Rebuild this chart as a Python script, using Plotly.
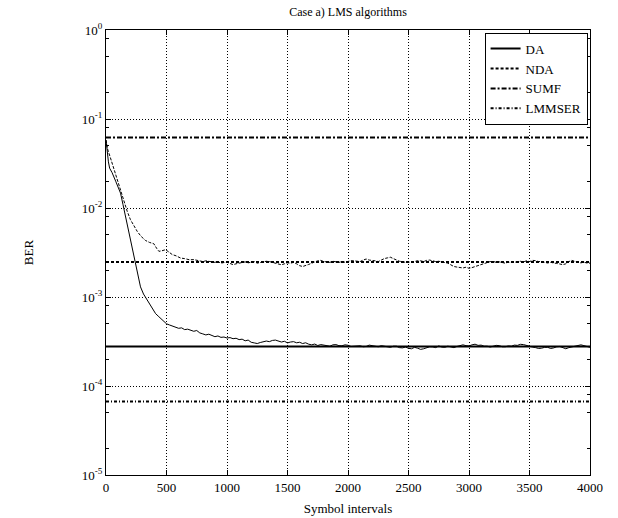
import plotly.graph_objects as go

# ---------------- data ----------------
x_span = [0, 4000]
level_DA = 2.78e-4
level_NDA = 2.48e-3
level_SUMF = 0.062
level_LMMSER = 6.7e-5

# DA adaptive curve: early transient + steady part sampled every 25 symbols
da_x_early = [0, 10, 20, 30, 50, 80, 100, 120, 140, 160, 180, 200, 220, 245, 265, 285, 310,
              335, 360, 385, 410, 437, 470]
da_y_early = [0.058, 0.042, 0.033, 0.028, 0.025, 0.020, 0.017, 0.0147, 0.011, 0.0082, 0.0060,
              0.0045, 0.0034, 0.0022, 0.0017, 0.0013, 0.00108, 0.00095, 0.00083, 0.00072,
              0.00065, 0.00060, 0.00055]
da_x_late = list(range(500, 4001, 25))
da_y_late_e4 = [5.0, 4.85, 4.7, 4.62, 4.45, 4.5, 4.3, 4.35, 4.2, 4.12, 4.2, 3.95, 3.85, 3.75,
                3.82, 3.7, 3.58, 3.65, 3.52, 3.55, 3.46, 3.5, 3.4, 3.44, 3.32, 3.36, 3.22,
                3.28, 3.1, 3.05, 3.0, 3.08, 3.12, 3.2, 3.15, 3.25, 3.28, 3.2, 3.12, 3.18, 3.05,
                3.12, 3.15, 3.06, 3.1, 3.0, 3.06, 2.95, 2.9, 2.96, 2.85, 2.92, 2.88, 2.82, 2.8,
                2.9, 2.92, 2.84, 2.83, 2.9, 2.87, 2.78, 2.8, 2.86, 2.83, 2.76, 2.78, 2.88, 2.85,
                2.78, 2.76, 2.84, 2.8, 2.74, 2.72, 2.8, 2.8, 2.7, 2.68, 2.74, 2.65, 2.62, 2.72,
                2.66, 2.58, 2.62, 2.68, 2.76, 2.75, 2.7, 2.82, 2.74, 2.72, 2.8, 2.75, 2.7, 2.78,
                2.86, 2.9, 2.84, 2.82, 2.9, 2.95, 2.86, 2.88, 2.8, 2.8, 2.74, 2.78, 2.86, 2.84,
                2.76, 2.76, 2.82, 2.8, 2.88, 2.86, 2.94, 2.92, 2.84, 2.82, 2.74, 2.7, 2.64, 2.66,
                2.72, 2.72, 2.64, 2.68, 2.76, 2.78, 2.7, 2.62, 2.7, 2.75, 2.8, 2.8, 2.9, 2.84,
                2.76, 2.72]

# NDA adaptive curve
nda_x_early = [0, 15, 37, 60, 92, 120, 147, 175, 202, 230, 258, 290, 326, 360, 395, 420, 437,
               460, 492, 520, 547, 580, 616, 650, 690, 726, 760]
nda_y_early = [0.058, 0.045, 0.0365, 0.029, 0.0208, 0.0155, 0.0119, 0.0092, 0.0074, 0.0063,
               0.00546, 0.0048, 0.00432, 0.0041, 0.00397, 0.0035, 0.00326, 0.0033, 0.0034,
               0.0032, 0.0030, 0.0029, 0.00274, 0.0027, 0.00262, 0.00263, 0.00255]
nda_x_late = list(range(800, 4001, 25))
nda_y_late_e3 = [2.5, 2.55, 2.52, 2.45, 2.45, 2.5, 2.4, 2.44, 2.46, 2.38, 2.31, 2.36, 2.4, 2.46,
                 2.48, 2.42, 2.45, 2.5, 2.4, 2.44, 2.46, 2.52, 2.5, 2.44, 2.38, 2.34, 2.3, 2.36,
                 2.42, 2.4, 2.45, 2.36, 2.25, 2.2, 2.24, 2.32, 2.4, 2.5, 2.55, 2.58, 2.5, 2.48,
                 2.45, 2.52, 2.48, 2.45, 2.5, 2.46, 2.51, 2.56, 2.55, 2.5, 2.5, 2.6, 2.67, 2.6,
                 2.6, 2.55, 2.5, 2.62, 2.7, 2.75, 2.8, 2.7, 2.6, 2.52, 2.5, 2.45, 2.45, 2.5, 2.5,
                 2.56, 2.55, 2.5, 2.58, 2.6, 2.55, 2.5, 2.52, 2.5, 2.44, 2.4, 2.28, 2.2, 2.17,
                 2.14, 2.12, 2.16, 2.1, 2.14, 2.2, 2.22, 2.3, 2.37, 2.45, 2.5, 2.51, 2.45, 2.48,
                 2.42, 2.4, 2.46, 2.44, 2.45, 2.5, 2.52, 2.48, 2.55, 2.5, 2.58, 2.56, 2.5, 2.5,
                 2.45, 2.41, 2.45, 2.4, 2.38, 2.35, 2.31, 2.36, 2.5, 2.58, 2.5, 2.45, 2.42, 2.46,
                 2.41, 2.4]

x_ticks = [0, 500, 1000, 1500, 2000, 2500, 3000, 3500, 4000]
y_ticks = [1e0, 1e-1, 1e-2, 1e-3, 1e-4, 1e-5]
y_ticktext = ["10<sup>0</sup>", "10<sup>-1</sup>", "10<sup>-2</sup>", "10<sup>-3</sup>",
              "10<sup>-4</sup>", "10<sup>-5</sup>"]
y_minor = [m * 10.0 ** e for e in range(-5, 0) for m in (2, 5, 8)]

title_text = "Case a) LMS algorithms"
x_title = "Symbol intervals"
y_title = "BER"

FONT = '"Liberation Serif", "Times New Roman", serif'

da_x = da_x_early + da_x_late
da_y = da_y_early + [v * 1e-4 for v in da_y_late_e4]
nda_x = nda_x_early + nda_x_late
nda_y = nda_y_early + [v * 1e-3 for v in nda_y_late_e3]

# ---------------- figure ----------------
fig = go.Figure()

fig.add_trace(go.Scatter(x=da_x, y=da_y, mode="lines", showlegend=False,
                         line=dict(color="black", width=1)))
fig.add_trace(go.Scatter(x=nda_x, y=nda_y, mode="lines", showlegend=False,
                         line=dict(color="black", width=1, dash="3px,1.5px")))

fig.add_trace(go.Scatter(x=x_span, y=[level_DA, level_DA], mode="lines", name="DA",
                         line=dict(color="black", width=2)))
fig.add_trace(go.Scatter(x=x_span, y=[level_NDA, level_NDA], mode="lines", name="NDA",
                         line=dict(color="black", width=2, dash="3px,2px")))
fig.add_trace(go.Scatter(x=x_span, y=[level_SUMF, level_SUMF], mode="lines", name="SUMF",
                         line=dict(color="black", width=2, dash="5px,2px,2px,2px")))
fig.add_trace(go.Scatter(x=x_span, y=[level_LMMSER, level_LMMSER], mode="lines", name="LMMSER",
                         line=dict(color="black", width=2, dash="3px,2px,1px,2px")))

fig.update_layout(
    width=618, height=518,
    margin=dict(l=106, r=28, t=30, b=43),
    paper_bgcolor="white", plot_bgcolor="white",
    font=dict(family=FONT, size=13, color="black"),
    title=dict(text=title_text, x=0.5, xref="paper", xanchor="center",
               y=1 - 12 / 518, yref="container", yanchor="middle",
               font=dict(family=FONT, size=12, color="black")),
    legend=dict(x=0.995, xanchor="right", y=0.994, yanchor="top",
                bgcolor="white", bordercolor="black", borderwidth=1,
                font=dict(family=FONT, size=13, color="black"),
                tracegroupgap=0, itemwidth=30),
    showlegend=True,
)

fig.update_xaxes(
    range=[0, 4000], tickmode="array", tickvals=x_ticks, automargin=False,
    showline=True, linecolor="black", linewidth=1, mirror="ticks",
    ticks="inside", ticklen=5, tickcolor="black",
    showgrid=True, gridcolor="black", gridwidth=1, griddash="1px,2px",
    zeroline=False,
    tickfont=dict(family=FONT, size=13, color="black"),
    title=dict(text=x_title, standoff=10, font=dict(family=FONT, size=13, color="black")),
)
fig.update_yaxes(
    type="log", range=[-5, 0], tickmode="array", tickvals=y_ticks, ticktext=y_ticktext,
    automargin=False,
    showline=True, linecolor="black", linewidth=1, mirror="ticks",
    ticks="inside", ticklen=5, tickcolor="black",
    showgrid=True, gridcolor="black", gridwidth=1, griddash="1px,2px",
    zeroline=False,
    minor=dict(tickmode="array", tickvals=y_minor, ticks="inside", ticklen=3,
               tickcolor="black", showgrid=False),
    tickfont=dict(family=FONT, size=13, color="black"),
    title=dict(text=y_title, standoff=45, font=dict(family=FONT, size=13, color="black")),
)

fig.write_html("out.html", config={"displayModeBar": False},
               post_script="document.body.style.margin='0px';")
